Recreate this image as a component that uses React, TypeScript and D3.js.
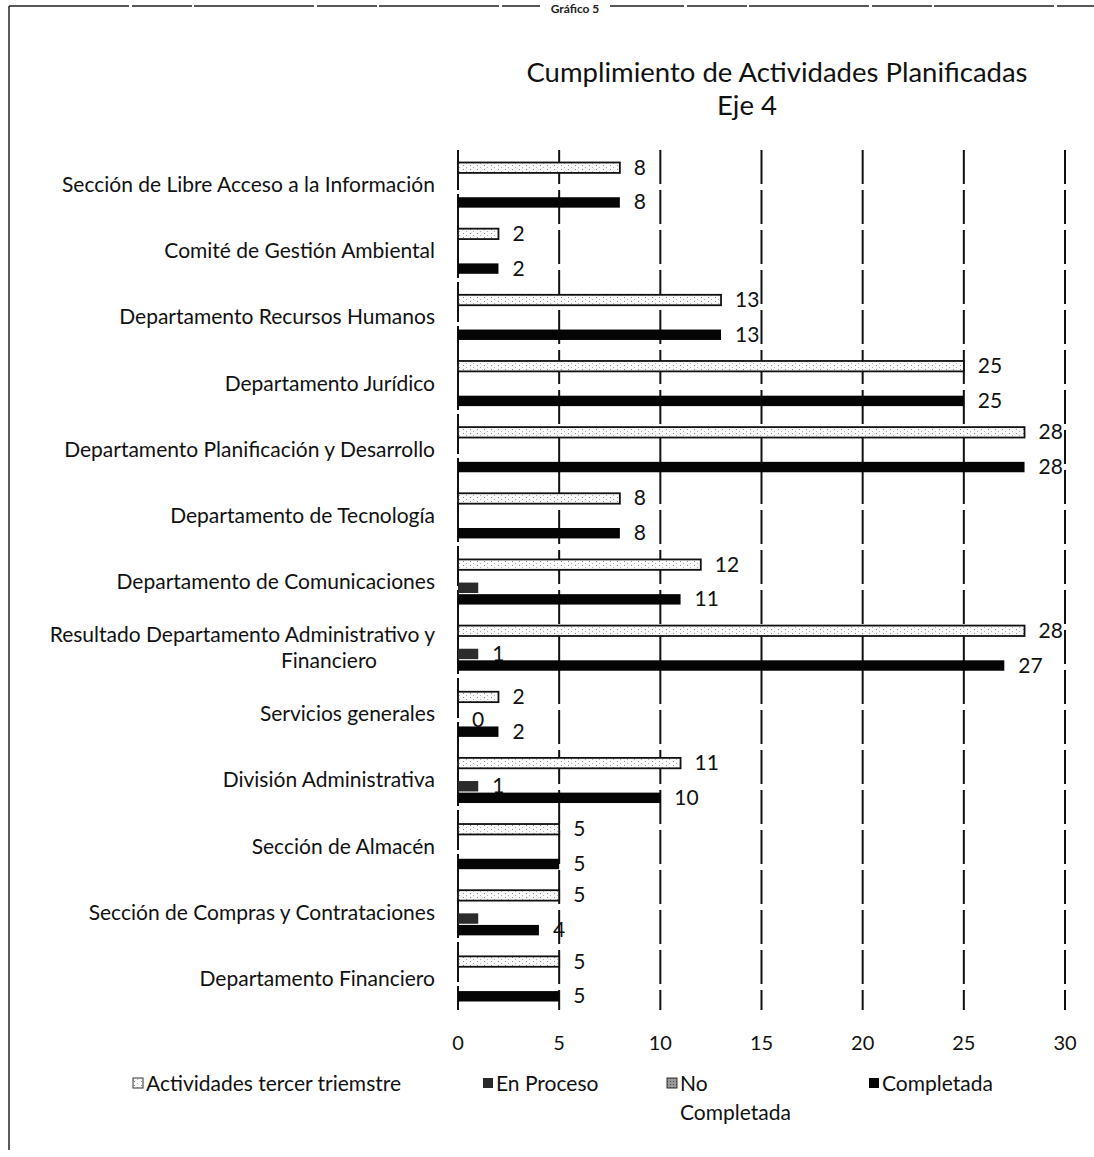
import * as d3 from "d3";

// data, top category first
const categories = [
  ["Sección de Libre Acceso a la Información"],
  ["Comité de Gestión Ambiental"],
  ["Departamento Recursos Humanos"],
  ["Departamento Jurídico"],
  ["Departamento Planificación y Desarrollo"],
  ["Departamento de Tecnología"],
  ["Departamento de Comunicaciones"],
  ["Resultado Departamento Administrativo y", "Financiero"],
  ["Servicios generales"],
  ["División Administrativa"],
  ["Sección de Almacén"],
  ["Sección de Compras y Contrataciones"],
  ["Departamento Financiero"],
];

const actividades = [8, 2, 13, 25, 28, 8, 12, 28, 2, 11, 5, 5, 5];
const noCompletada = [null, null, null, null, null, null, null, null, null, null, null, null, null];
const enProceso = [null, null, null, null, null, null, 1, 1, 0, 1, null, 1, null];
const enProcesoShown = [false, false, false, false, false, false, false, true, true, true, false, false, false];
const completada = [8, 2, 13, 25, 28, 8, 11, 27, 2, 10, 5, 4, 5];

const xTicks = [0, 5, 10, 15, 20, 25, 30];

const legendItems = [
  { key: "act", label: ["Actividades tercer triemstre"] },
  { key: "proc", label: ["En Proceso"] },
  { key: "no", label: ["No", "Completada"] },
  { key: "comp", label: ["Completada"] },
];

const W = 1094;
const H = 1157;
const font = "Lato, 'Open Sans', sans-serif";
const fs = 21;

const margins = { l: 458, r: 29, t: 152, b: 145 };

const fills = {
  act: "url(#actPat)",
  no: "url(#noPat)",
  proc: "#2b2b2b",
  comp: "#050505",
};

export default function App() {
  const xScale = d3.scaleLinear().domain([0, 30]).range([margins.l, W - margins.r]);
  const idx = categories.map((_, i) => i);
  const yScale = d3
    .scaleBand<number>()
    .domain(idx)
    .range([margins.t, H - margins.b])
    .paddingInner(0.3)
    .paddingOuter(0.15);

  const series = [
    { key: "act", values: actividades, shown: actividades.map(() => true) },
    { key: "no", values: noCompletada, shown: noCompletada.map(() => false) },
    { key: "proc", values: enProceso, shown: enProcesoShown },
    { key: "comp", values: completada, shown: completada.map(() => true) },
  ];

  const inner = d3
    .scaleBand<string>()
    .domain(series.map((s) => s.key))
    .range([0, yScale.bandwidth()])
    .paddingInner(0.1)
    .paddingOuter(0.05);

  const gridTop = margins.t - 2;
  const gridBottom = H - margins.b - 2;

  const legendX = { act: 133, proc: 483, no: 667, comp: 869 };

  return (
    <svg width={W} height={H} style={{ display: "block", position: "absolute", left: 0, top: 0 }} fontFamily={font}>
      <defs>
        <pattern id="actPat" width="7" height="4" patternUnits="userSpaceOnUse">
          <rect width="7" height="4" fill="#fafafa" />
          <rect x="1" y="1" width="1" height="1" fill="#8a8a8a" />
          <rect x="4" y="3" width="1" height="1" fill="#b0b0b0" />
        </pattern>
        <pattern id="noPat" width="3" height="3" patternUnits="userSpaceOnUse">
          <rect width="3" height="3" fill="#9a9a9a" />
          <rect x="1" y="1" width="1" height="1" fill="#444" />
        </pattern>
      </defs>
      <rect width={W} height={H} fill="#fff" />

      {/* page frame */}
      <line x1={9} x2={9} y1={6} y2={1150} stroke="#222" strokeWidth={1.5} />
      <line x1={9} x2={W} y1={6} y2={6} stroke="#222" strokeWidth={1.5} strokeDasharray="120 3 60 2" />
      <rect x={540} y={2} width={70} height={13} fill="#fff" />
      <text x={575} y={13} fontSize={12} fontWeight={700} textAnchor="middle" fill="#222">
        Gráfico 5
      </text>

      {/* title */}
      <text x={777} y={82} fontSize={27.5} textAnchor="middle" fill="#111">
        Cumplimiento de Actividades Planificadas
      </text>
      <text x={747} y={115} fontSize={27.5} textAnchor="middle" fill="#111">
        Eje 4
      </text>

      {/* vertical grid */}
      {xTicks.map((t) => (
        <line
          key={t}
          x1={xScale(t)}
          x2={xScale(t)}
          y1={gridTop}
          y2={gridBottom}
          stroke="#111"
          strokeWidth={2}
          strokeDasharray={t === 0 ? "40 4" : "34 6"}
        />
      ))}

      {/* x tick labels */}
      {xTicks.map((t) => (
        <text key={t} x={xScale(t)} y={1050} fontSize={20} textAnchor="middle" fill="#111">
          {t}
        </text>
      ))}

      {/* category labels */}
      {categories.map((lines, i) => {
        const cy = (yScale(i) as number) + yScale.bandwidth() / 2;
        if (lines.length === 1) {
          return (
            <text key={i} x={435} y={cy + 7} fontSize={fs} textAnchor="end" fill="#111">
              {lines[0]}
            </text>
          );
        }
        return (
          <g key={i}>
            <text x={435} y={cy - 6} fontSize={fs} textAnchor="end" fill="#111">
              {lines[0]}
            </text>
            <text x={329} y={cy + 20} fontSize={fs} textAnchor="middle" fill="#111">
              {lines[1]}
            </text>
          </g>
        );
      })}

      {/* bars */}
      {series.map((s) => (
        <g key={s.key}>
          {s.values.map((v, i) => {
            if (v === null) return null;
            const y = (yScale(i) as number) + (inner(s.key) as number);
            const h = inner.bandwidth();
            return (
              <g key={i}>
                {v > 0 && (
                  <rect
                    x={xScale(0)}
                    y={y}
                    width={xScale(v) - xScale(0)}
                    height={h}
                    fill={fills[s.key]}
                    stroke={s.key === "act" ? "#111" : "none"}
                    strokeWidth={s.key === "act" ? 1.8 : 0}
                  />
                )}
                {s.shown[i] && (
                  <text x={xScale(v) + 14} y={y + h / 2 + 7} fontSize={fs} fill="#111">
                    {v}
                  </text>
                )}
              </g>
            );
          })}
        </g>
      ))}

      {/* legend */}
      {legendItems.map((d) => {
        const x = legendX[d.key];
        return (
          <g key={d.key}>
            <rect
              x={x}
              y={1078}
              width={10}
              height={10}
              fill={fills[d.key]}
              stroke={d.key === "act" || d.key === "no" ? "#333" : "none"}
              strokeWidth={1}
            />
            {d.label.map((l, j) => (
              <text key={j} x={x + 13} y={1091 + j * 29} fontSize={fs} fill="#111">
                {l}
              </text>
            ))}
          </g>
        );
      })}
    </svg>
  );
}
